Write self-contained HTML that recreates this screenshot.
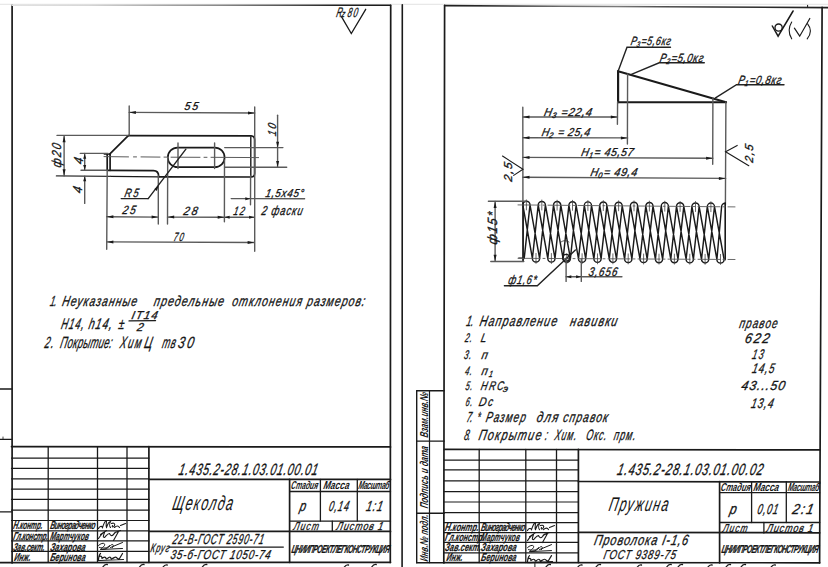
<!DOCTYPE html>
<html><head><meta charset="utf-8"><title>drawing</title>
<style>
html,body{margin:0;padding:0;background:#fff;width:828px;height:567px;overflow:hidden}
svg{display:block}
text{font-family:"Liberation Sans",sans-serif;font-style:italic}
</style></head><body>
<svg width="828" height="567" viewBox="0 0 828 567" stroke-linecap="round">
<line x1="0.0" y1="4.3" x2="828.0" y2="4.3" stroke="#e8e8e8" stroke-width="1.2" />
<line x1="12.1" y1="5.3" x2="12.1" y2="563.0" stroke="#1a1a1a" stroke-width="1.7" />
<defs><linearGradient id="gl" gradientUnits="userSpaceOnUse" x1="12" y1="0" x2="391" y2="0"><stop offset="0" stop-color="#e2e2e2"/><stop offset="0.2" stop-color="#d6d6d6"/><stop offset="0.38" stop-color="#aaaaaa"/><stop offset="0.55" stop-color="#888888"/><stop offset="0.75" stop-color="#4a4a4a"/><stop offset="0.85" stop-color="#222222"/><stop offset="1" stop-color="#1a1a1a"/></linearGradient>
<linearGradient id="gr" gradientUnits="userSpaceOnUse" x1="444" y1="0" x2="828" y2="0"><stop offset="0" stop-color="#1e1e1e"/><stop offset="0.18" stop-color="#333"/><stop offset="0.3" stop-color="#6a6a6a"/><stop offset="0.45" stop-color="#7a7a7a"/><stop offset="0.55" stop-color="#555"/><stop offset="0.7" stop-color="#333"/><stop offset="1" stop-color="#222"/></linearGradient></defs>
<line x1="12.0" y1="5.3" x2="390.6" y2="5.3" stroke="url(#gl)" stroke-width="1.6" />
<line x1="390.7" y1="5.4" x2="390.3" y2="562.5" stroke="#1a1a1a" stroke-width="1.7" />
<line x1="402.3" y1="4.8" x2="402.1" y2="567.0" stroke="#1a1a1a" stroke-width="1.6" />
<line x1="444.6" y1="5.4" x2="443.8" y2="562.8" stroke="#1a1a1a" stroke-width="1.7" />
<line x1="444.6" y1="5.6" x2="828.0" y2="7.6" stroke="url(#gr)" stroke-width="1.6" />
<line x1="807.6" y1="5.3" x2="807.6" y2="7.0" stroke="#1a1a1a" stroke-width="1.0" />
<line x1="822.1" y1="7.4" x2="819.6" y2="562.8" stroke="#1a1a1a" stroke-width="1.7" />
<line x1="0.0" y1="389.0" x2="11.8" y2="389.0" stroke="#1a1a1a" stroke-width="1.3" />
<line x1="0.0" y1="439.3" x2="11.7" y2="439.3" stroke="#1a1a1a" stroke-width="1.3" />
<line x1="0.0" y1="511.8" x2="11.6" y2="511.8" stroke="#1a1a1a" stroke-width="1.3" />
<line x1="3.0" y1="437.0" x2="3.0" y2="439.0" stroke="#1a1a1a" stroke-width="0.8" />
<line x1="11.5" y1="446.6" x2="390.5" y2="446.9" stroke="#1a1a1a" stroke-width="1.7" />
<line x1="11.5" y1="458.1" x2="149.0" y2="458.1" stroke="#1a1a1a" stroke-width="1.2" />
<line x1="11.5" y1="468.4" x2="149.0" y2="468.4" stroke="#1a1a1a" stroke-width="1.2" />
<line x1="11.5" y1="478.8" x2="149.0" y2="478.8" stroke="#1a1a1a" stroke-width="1.2" />
<line x1="11.5" y1="489.2" x2="149.0" y2="489.2" stroke="#1a1a1a" stroke-width="1.2" />
<line x1="11.5" y1="499.4" x2="149.0" y2="499.4" stroke="#1a1a1a" stroke-width="1.2" />
<line x1="11.5" y1="510.1" x2="149.0" y2="510.1" stroke="#1a1a1a" stroke-width="1.2" />
<line x1="11.5" y1="520.5" x2="149.0" y2="520.5" stroke="#1a1a1a" stroke-width="1.2" />
<line x1="11.5" y1="530.8" x2="149.0" y2="530.8" stroke="#1a1a1a" stroke-width="1.2" />
<line x1="11.5" y1="540.9" x2="149.0" y2="540.9" stroke="#1a1a1a" stroke-width="1.2" />
<line x1="11.5" y1="551.3" x2="149.0" y2="551.3" stroke="#1a1a1a" stroke-width="1.2" />
<line x1="0.0" y1="562.7" x2="390.5" y2="562.3" stroke="#1a1a1a" stroke-width="1.7" />
<line x1="48.2" y1="446.6" x2="48.2" y2="562.3" stroke="#1a1a1a" stroke-width="1.3" />
<line x1="97.5" y1="446.6" x2="97.5" y2="562.3" stroke="#1a1a1a" stroke-width="1.3" />
<line x1="127.0" y1="446.6" x2="127.0" y2="562.3" stroke="#1a1a1a" stroke-width="1.3" />
<line x1="148.9" y1="446.6" x2="148.9" y2="562.3" stroke="#1a1a1a" stroke-width="1.7" />
<line x1="149.0" y1="479.4" x2="390.5" y2="479.4" stroke="#1a1a1a" stroke-width="1.7" />
<line x1="149.0" y1="531.4" x2="390.5" y2="531.4" stroke="#1a1a1a" stroke-width="1.7" />
<line x1="289.6" y1="479.4" x2="289.6" y2="562.3" stroke="#1a1a1a" stroke-width="1.7" />
<line x1="289.6" y1="491.5" x2="390.5" y2="491.5" stroke="#1a1a1a" stroke-width="1.3" />
<line x1="289.6" y1="521.1" x2="390.5" y2="521.1" stroke="#1a1a1a" stroke-width="1.3" />
<line x1="320.4" y1="479.4" x2="320.4" y2="521.1" stroke="#1a1a1a" stroke-width="1.3" />
<line x1="357.3" y1="479.4" x2="357.3" y2="521.1" stroke="#1a1a1a" stroke-width="1.3" />
<line x1="332.3" y1="521.1" x2="332.3" y2="531.4" stroke="#1a1a1a" stroke-width="1.3" />
<line x1="169.0" y1="547.1" x2="283.4" y2="547.1" stroke="#1a1a1a" stroke-width="1.1" />
<line x1="416.7" y1="390.8" x2="416.7" y2="562.7" stroke="#1a1a1a" stroke-width="1.4" />
<line x1="429.5" y1="390.8" x2="429.5" y2="562.7" stroke="#1a1a1a" stroke-width="1.2" />
<line x1="416.7" y1="390.8" x2="444.2" y2="390.8" stroke="#1a1a1a" stroke-width="1.4" />
<line x1="416.7" y1="441.1" x2="444.2" y2="441.1" stroke="#1a1a1a" stroke-width="1.4" />
<line x1="416.7" y1="513.3" x2="444.2" y2="513.3" stroke="#1a1a1a" stroke-width="1.4" />
<line x1="416.7" y1="562.7" x2="444.2" y2="562.7" stroke="#1a1a1a" stroke-width="1.4" />
<line x1="444.3" y1="449.4" x2="819.7" y2="449.9" stroke="#1a1a1a" stroke-width="1.7" />
<line x1="444.3" y1="460.2" x2="578.4" y2="460.2" stroke="#1a1a1a" stroke-width="1.2" />
<line x1="444.3" y1="469.9" x2="578.4" y2="469.9" stroke="#1a1a1a" stroke-width="1.2" />
<line x1="444.3" y1="480.8" x2="578.4" y2="480.8" stroke="#1a1a1a" stroke-width="1.2" />
<line x1="444.3" y1="491.6" x2="578.4" y2="491.6" stroke="#1a1a1a" stroke-width="1.2" />
<line x1="444.3" y1="502.0" x2="578.4" y2="502.0" stroke="#1a1a1a" stroke-width="1.2" />
<line x1="444.3" y1="512.7" x2="578.4" y2="512.7" stroke="#1a1a1a" stroke-width="1.2" />
<line x1="444.3" y1="522.6" x2="578.4" y2="522.6" stroke="#1a1a1a" stroke-width="1.2" />
<line x1="444.3" y1="532.7" x2="578.4" y2="532.7" stroke="#1a1a1a" stroke-width="1.2" />
<line x1="444.3" y1="542.4" x2="578.4" y2="542.4" stroke="#1a1a1a" stroke-width="1.2" />
<line x1="444.3" y1="552.8" x2="578.4" y2="552.8" stroke="#1a1a1a" stroke-width="1.2" />
<line x1="444.3" y1="562.6" x2="819.7" y2="562.8" stroke="#1a1a1a" stroke-width="1.7" />
<line x1="479.2" y1="449.4" x2="479.2" y2="562.6" stroke="#1a1a1a" stroke-width="1.3" />
<line x1="525.8" y1="449.4" x2="525.8" y2="562.6" stroke="#1a1a1a" stroke-width="1.3" />
<line x1="556.5" y1="449.4" x2="556.5" y2="562.6" stroke="#1a1a1a" stroke-width="1.3" />
<line x1="578.4" y1="449.4" x2="578.4" y2="562.6" stroke="#1a1a1a" stroke-width="1.7" />
<line x1="578.4" y1="481.5" x2="819.7" y2="482.0" stroke="#1a1a1a" stroke-width="1.7" />
<line x1="578.4" y1="532.4" x2="819.7" y2="532.8" stroke="#1a1a1a" stroke-width="1.7" />
<line x1="719.6" y1="481.5" x2="719.6" y2="562.8" stroke="#1a1a1a" stroke-width="1.7" />
<line x1="719.6" y1="492.6" x2="819.7" y2="492.7" stroke="#1a1a1a" stroke-width="1.3" />
<line x1="719.6" y1="522.5" x2="819.7" y2="522.5" stroke="#1a1a1a" stroke-width="1.3" />
<line x1="751.6" y1="481.7" x2="751.6" y2="522.5" stroke="#1a1a1a" stroke-width="1.3" />
<line x1="786.3" y1="481.7" x2="786.3" y2="522.5" stroke="#1a1a1a" stroke-width="1.3" />
<line x1="763.9" y1="522.5" x2="763.9" y2="533.0" stroke="#1a1a1a" stroke-width="1.3" />
<path d="M128.3,135.6 L251.2,135.8 Q254.6,136 254.6,139.5 L254.6,173.5 Q254.6,177 251.2,177 L158.6,176.9" stroke="#1a1a1a" stroke-width="1.7" fill="none" />
<line x1="110.5" y1="176.4" x2="158.6" y2="176.9" stroke="#1a1a1a" stroke-width="1.4" />
<line x1="56.4" y1="175.9" x2="110.5" y2="176.4" stroke="#333" stroke-width="1.3" />
<path d="M128.3,135.6 L109.4,154.3" stroke="#1a1a1a" stroke-width="1.7" fill="none" />
<line x1="107.2" y1="154.0" x2="107.2" y2="170.3" stroke="#1a1a1a" stroke-width="1.7" />
<line x1="110.1" y1="154.3" x2="110.1" y2="170.3" stroke="#1a1a1a" stroke-width="1.7" />
<path d="M107.2,170.3 L153.5,170.6 Q158.5,170.8 158.6,175.8" stroke="#1a1a1a" stroke-width="1.7" fill="none" />
<line x1="104.3" y1="154.2" x2="110.5" y2="154.2" stroke="#1a1a1a" stroke-width="1.2" />
<path d="M177.6,147.6 L214.8,147.6 A9.8,9.8 0 0 1 214.8,167.2 L177.6,167.2 A9.8,9.8 0 0 1 177.6,147.6 Z" stroke="#1a1a1a" stroke-width="1.7" fill="none" />
<line x1="250.8" y1="137.0" x2="250.8" y2="176.5" stroke="#1a1a1a" stroke-width="1.4" />
<line x1="57.0" y1="135.4" x2="128.0" y2="135.4" stroke="#5a5a5a" stroke-width="1.4" />
<line x1="80.3" y1="153.4" x2="108.0" y2="153.4" stroke="#5a5a5a" stroke-width="1.4" />
<line x1="81.0" y1="170.3" x2="107.0" y2="170.3" stroke="#5a5a5a" stroke-width="1.4" />
<line x1="64.1" y1="135.6" x2="64.1" y2="175.9" stroke="#5a5a5a" stroke-width="1.4" />
<path d="M64.1,135.8 L65.6,142.3 L62.6,142.3 Z" fill="#1a1a1a"/>
<path d="M64.1,175.7 L62.6,169.2 L65.6,169.2 Z" fill="#1a1a1a"/>
<line x1="84.7" y1="153.5" x2="84.7" y2="170.2" stroke="#5a5a5a" stroke-width="1.4" />
<path d="M84.7,153.7 L86.2,158.7 L83.2,158.7 Z" fill="#1a1a1a"/>
<path d="M84.7,170.1 L83.2,165.1 L86.2,165.1 Z" fill="#1a1a1a"/>
<line x1="84.7" y1="176.1" x2="84.7" y2="203.4" stroke="#5a5a5a" stroke-width="1.4" />
<path d="M84.7,176.2 L86.2,181.2 L83.2,181.2 Z" fill="#1a1a1a"/>
<path d="M104,156.6 L128.5,156.9 M133.5,156.9 L136.5,156.9 M141,156.9 L160,157.1 M164,157.1 L167,157.1 M171,157.2 L200,157.3 M204,157.3 L207,157.3 M211,157.3 L258.6,157.6" stroke="#5a5a5a" stroke-width="1.0" fill="none" />
<line x1="178.0" y1="143.0" x2="178.0" y2="168.5" stroke="#5a5a5a" stroke-width="1.4" />
<line x1="214.6" y1="143.0" x2="214.6" y2="168.5" stroke="#5a5a5a" stroke-width="1.4" />
<line x1="224.7" y1="147.6" x2="282.9" y2="147.6" stroke="#5a5a5a" stroke-width="1.4" />
<line x1="224.7" y1="167.2" x2="286.7" y2="167.2" stroke="#5a5a5a" stroke-width="1.4" />
<line x1="277.6" y1="115.2" x2="277.6" y2="167.2" stroke="#5a5a5a" stroke-width="1.4" />
<path d="M277.6,147.8 L276.1,141.8 L279.1,141.8 Z" fill="#1a1a1a"/>
<path d="M277.6,167.0 L276.1,161.0 L279.1,161.0 Z" fill="#1a1a1a"/>
<line x1="129.2" y1="105.9" x2="129.2" y2="135.0" stroke="#5a5a5a" stroke-width="1.4" />
<line x1="254.7" y1="107.0" x2="254.7" y2="251.2" stroke="#5a5a5a" stroke-width="1.4" />
<line x1="129.2" y1="112.4" x2="254.7" y2="113.0" stroke="#5a5a5a" stroke-width="1.4" />
<path d="M129.4,112.4 L135.9,110.9 L135.9,113.9 Z" fill="#1a1a1a"/>
<path d="M254.5,113.0 L248.0,114.5 L248.0,111.5 Z" fill="#1a1a1a"/>
<line x1="107.2" y1="170.3" x2="106.7" y2="249.2" stroke="#5a5a5a" stroke-width="1.4" />
<line x1="158.3" y1="176.0" x2="158.3" y2="224.1" stroke="#5a5a5a" stroke-width="1.4" />
<line x1="167.7" y1="157.3" x2="167.5" y2="224.1" stroke="#5a5a5a" stroke-width="1.4" />
<line x1="224.5" y1="160.0" x2="224.4" y2="221.8" stroke="#5a5a5a" stroke-width="1.4" />
<line x1="250.6" y1="176.0" x2="250.5" y2="204.8" stroke="#5a5a5a" stroke-width="1.4" />
<line x1="106.7" y1="216.8" x2="158.3" y2="217.1" stroke="#5a5a5a" stroke-width="1.4" />
<path d="M106.9,216.8 L113.4,215.3 L113.4,218.3 Z" fill="#1a1a1a"/>
<path d="M158.1,217.1 L151.6,218.6 L151.6,215.6 Z" fill="#1a1a1a"/>
<line x1="167.5" y1="217.1" x2="224.4" y2="217.3" stroke="#5a5a5a" stroke-width="1.4" />
<path d="M167.7,217.1 L174.2,215.6 L174.2,218.6 Z" fill="#1a1a1a"/>
<path d="M224.2,217.3 L217.7,218.8 L217.7,215.8 Z" fill="#1a1a1a"/>
<line x1="224.4" y1="217.3" x2="254.3" y2="217.3" stroke="#5a5a5a" stroke-width="1.4" />
<path d="M224.6,217.3 L229.6,215.8 L229.6,218.8 Z" fill="#1a1a1a"/>
<path d="M254.1,217.3 L249.1,218.8 L249.1,215.8 Z" fill="#1a1a1a"/>
<line x1="106.7" y1="241.9" x2="254.3" y2="242.5" stroke="#5a5a5a" stroke-width="1.4" />
<path d="M106.9,241.9 L113.4,240.4 L113.4,243.4 Z" fill="#1a1a1a"/>
<path d="M254.1,242.5 L247.6,244.0 L247.6,241.0 Z" fill="#1a1a1a"/>
<line x1="185.9" y1="149.2" x2="148.2" y2="198.6" stroke="#222" stroke-width="1.4" />
<line x1="148.2" y1="198.6" x2="121.2" y2="198.6" stroke="#222" stroke-width="1.4" />
<path d="M158.6,186.0 L156.8,190.9 L154.4,189.1 Z" fill="#1a1a1a"/>
<line x1="231.2" y1="198.6" x2="304.6" y2="198.8" stroke="#5a5a5a" stroke-width="1.4" />
<path d="M250.3,198.7 L245.3,200.2 L245.3,197.2 Z" fill="#1a1a1a"/>
<path d="M341.6,16.9 L351.3,33.5 L365.7,9.3" stroke="#1a1a1a" stroke-width="1.3" fill="none" />
<line x1="618.1" y1="71.2" x2="618.1" y2="102.2" stroke="#1a1a1a" stroke-width="2.2" />
<line x1="618.1" y1="71.2" x2="726.1" y2="102.2" stroke="#1a1a1a" stroke-width="2.0" />
<line x1="618.1" y1="102.2" x2="726.1" y2="102.2" stroke="#1a1a1a" stroke-width="2.0" />
<line x1="617.6" y1="102.0" x2="617.4" y2="124.2" stroke="#5a5a5a" stroke-width="1.4" />
<line x1="627.6" y1="74.0" x2="627.4" y2="144.0" stroke="#5a5a5a" stroke-width="1.4" />
<line x1="712.9" y1="98.0" x2="712.7" y2="164.3" stroke="#5a5a5a" stroke-width="1.4" />
<line x1="725.9" y1="102.0" x2="725.4" y2="205.0" stroke="#5a5a5a" stroke-width="1.4" />
<path d="M618.1,71.2 L627,47.3 L670.5,47.3" stroke="#222" stroke-width="1.4" fill="none" />
<path d="M631.4,74.3 L659.2,62.8 L704.3,62.8" stroke="#222" stroke-width="1.4" fill="none" />
<path d="M715.5,97.8 L736.5,84.7 L784,84.7" stroke="#222" stroke-width="1.4" fill="none" />
<line x1="522.8" y1="107.3" x2="523.0" y2="261.0" stroke="#5a5a5a" stroke-width="1.4" />
<line x1="522.8" y1="117.0" x2="617.5" y2="117.0" stroke="#5a5a5a" stroke-width="1.4" />
<path d="M523.0,117.0 L529.5,115.5 L529.5,118.5 Z" fill="#1a1a1a"/>
<path d="M617.3,117.0 L610.8,118.5 L610.8,115.5 Z" fill="#1a1a1a"/>
<line x1="522.8" y1="137.7" x2="627.6" y2="137.9" stroke="#5a5a5a" stroke-width="1.4" />
<path d="M523.0,137.7 L529.5,136.2 L529.5,139.2 Z" fill="#1a1a1a"/>
<path d="M627.4,137.9 L620.9,139.4 L620.9,136.4 Z" fill="#1a1a1a"/>
<line x1="522.8" y1="157.4" x2="712.8" y2="158.2" stroke="#5a5a5a" stroke-width="1.4" />
<path d="M523.0,157.4 L529.5,155.9 L529.5,158.9 Z" fill="#1a1a1a"/>
<path d="M712.6,158.2 L706.1,159.7 L706.1,156.7 Z" fill="#1a1a1a"/>
<line x1="522.8" y1="177.3" x2="725.6" y2="178.4" stroke="#5a5a5a" stroke-width="1.4" />
<path d="M523.0,177.3 L529.5,175.8 L529.5,178.8 Z" fill="#1a1a1a"/>
<path d="M725.4,178.4 L718.9,179.9 L718.9,176.9 Z" fill="#1a1a1a"/>
<path d="M502.5,156 L523,169.2 L513.7,175.4" stroke="#1a1a1a" stroke-width="1.1" fill="none" />
<path d="M737.2,145.4 L725.6,151.8 L748.8,165.7" stroke="#1a1a1a" stroke-width="1.1" fill="none" />
<path d="M772.3,26 L778.1,36.2 L793.1,11" stroke="#1a1a1a" stroke-width="1.5" fill="none" />
<circle cx="778.6" cy="27.6" r="3.6" fill="none" stroke="#1a1a1a" stroke-width="1.3"/>
<path d="M791.7,22 Q786.5,30.5 791.7,38.8" stroke="#1a1a1a" stroke-width="1.1" fill="none" />
<path d="M794.4,28.2 L799.7,36.2 L809.8,18.5" stroke="#1a1a1a" stroke-width="1.2" fill="none" />
<path d="M807.6,23.8 Q813.5,31 807.2,38.8" stroke="#1a1a1a" stroke-width="1.1" fill="none" />
<path d="M522.8,204.9 A3.6,3.6 0 0 1 530.0,204.9 M538.2,205.0 A3.6,3.6 0 0 1 545.4,205.0 M553.5,205.2 A3.6,3.6 0 0 1 560.8,205.2 M568.9,205.3 A3.6,3.6 0 0 1 576.1,205.3 M584.3,205.5 A3.6,3.6 0 0 1 591.5,205.5 M599.7,205.6 A3.6,3.6 0 0 1 606.9,205.6 M615.0,205.8 A3.6,3.6 0 0 1 622.2,205.8 M630.4,205.9 A3.6,3.6 0 0 1 637.6,205.9 M645.8,206.1 A3.6,3.6 0 0 1 653.0,206.1 M661.2,206.2 A3.6,3.6 0 0 1 668.4,206.2 M676.5,206.4 A3.6,3.6 0 0 1 683.8,206.4 M691.9,206.5 A3.6,3.6 0 0 1 699.1,206.5 M707.3,206.7 A3.6,3.6 0 0 1 714.5,206.7 M532.4,258.4 A3.6,3.6 0 0 0 539.6,258.4 M547.8,258.5 A3.6,3.6 0 0 0 555.0,258.5 M563.1,258.6 A3.6,3.6 0 0 0 570.4,258.6 M578.5,258.7 A3.6,3.6 0 0 0 585.7,258.7 M593.9,258.8 A3.6,3.6 0 0 0 601.1,258.8 M609.3,258.8 A3.6,3.6 0 0 0 616.5,258.8 M624.6,258.9 A3.6,3.6 0 0 0 631.9,258.9 M640.0,259.0 A3.6,3.6 0 0 0 647.2,259.0 M655.4,259.1 A3.6,3.6 0 0 0 662.6,259.1 M670.8,259.1 A3.6,3.6 0 0 0 678.0,259.1 M686.1,259.2 A3.6,3.6 0 0 0 693.4,259.2 M701.5,259.3 A3.6,3.6 0 0 0 708.7,259.3 M716.9,259.4 A3.6,3.6 0 0 0 724.1,259.4 M522.8,204.9 L532.4,258.4 M530.0,204.9 L539.6,258.4 M538.2,205.0 L547.8,258.5 M545.4,205.0 L555.0,258.5 M553.5,205.2 L563.1,258.6 M560.8,205.2 L570.4,258.6 M568.9,205.3 L578.5,258.7 M576.1,205.3 L585.7,258.7 M584.3,205.5 L593.9,258.8 M591.5,205.5 L601.1,258.8 M599.7,205.6 L609.3,258.8 M606.9,205.6 L616.5,258.8 M615.0,205.8 L624.6,258.9 M622.2,205.8 L631.9,258.9 M630.4,205.9 L640.0,259.0 M637.6,205.9 L647.2,259.0 M645.8,206.1 L655.4,259.1 M653.0,206.1 L662.6,259.1 M661.2,206.2 L670.8,259.1 M668.4,206.2 L678.0,259.1 M676.5,206.4 L686.1,259.2 M683.8,206.4 L693.4,259.2 M691.9,206.5 L701.5,259.3 M699.1,206.5 L708.7,259.3 M707.3,206.7 L716.9,259.4 M714.5,206.7 L724.1,259.4 M532.4,258.4 L538.2,205.0 M539.6,258.4 L545.4,205.0 M547.8,258.5 L553.5,205.2 M555.0,258.5 L560.8,205.2 M563.1,258.6 L568.9,205.3 M570.4,258.6 L576.1,205.3 M578.5,258.7 L584.3,205.5 M585.7,258.7 L591.5,205.5 M593.9,258.8 L599.7,205.6 M601.1,258.8 L606.9,205.6 M609.3,258.8 L615.0,205.8 M616.5,258.8 L622.2,205.8 M624.6,258.9 L630.4,205.9 M631.9,258.9 L637.6,205.9 M640.0,259.0 L645.8,206.1 M647.2,259.0 L653.0,206.1 M655.4,259.1 L661.2,206.2 M662.6,259.1 L668.4,206.2 M670.8,259.1 L676.5,206.4 M678.0,259.1 L683.8,206.4 M686.1,259.2 L691.9,206.5 M693.4,259.2 L699.1,206.5 M701.5,259.3 L707.3,206.7 M708.7,259.3 L714.5,206.7 M524.2,258.4 L530.0,204.9 M716.9,259.4 L721.6,206.8 M721.6,206.8 A3.6,3.6 0 0 1 725.2,203.2" stroke="#1a1a1a" stroke-width="1.45" fill="none" />
<line x1="523.1" y1="202.4" x2="523.1" y2="260.4" stroke="#1a1a1a" stroke-width="1.6" />
<line x1="725.2" y1="203.0" x2="725.2" y2="259.8" stroke="#1a1a1a" stroke-width="1.6" />
<line x1="518.7" y1="258.0" x2="523.1" y2="258.0" stroke="#1a1a1a" stroke-width="1.2" />
<path d="M518,204.9 L735,206.9" stroke="#5a5a5a" stroke-width="0.9" fill="none" stroke-dasharray="22,3,2,3"/>
<path d="M518,258.3 L735,259.5" stroke="#5a5a5a" stroke-width="0.9" fill="none" stroke-dasharray="22,3,2,3"/>
<path d="M526.4,199.9 V209.9 M541.8,200.0 V210.0 M557.1,200.2 V210.2 M572.5,200.3 V210.3 M587.9,200.5 V210.5 M603.3,200.6 V210.6 M618.6,200.8 V210.8 M634.0,200.9 V210.9 M649.4,201.1 V211.1 M664.8,201.2 V211.2 M680.1,201.4 V211.4 M695.5,201.5 V211.5 M710.9,201.7 V211.7 M536.0,253.4 V263.4 M551.4,253.5 V263.5 M566.8,253.6 V263.6 M582.1,253.7 V263.7 M597.5,253.8 V263.8 M612.9,253.8 V263.8 M628.2,253.9 V263.9 M643.6,254.0 V264.0 M659.0,254.1 V264.1 M674.4,254.1 V264.1 M689.8,254.2 V264.2 M705.1,254.3 V264.3 M720.5,254.4 V264.4" stroke="#444" stroke-width="0.8" fill="none" />
<line x1="488.4" y1="201.2" x2="526.0" y2="201.2" stroke="#5a5a5a" stroke-width="1.4" />
<line x1="490.8" y1="261.5" x2="523.8" y2="261.5" stroke="#5a5a5a" stroke-width="1.4" />
<line x1="495.1" y1="201.4" x2="495.1" y2="261.3" stroke="#5a5a5a" stroke-width="1.4" />
<path d="M495.1,201.5 L496.6,208.0 L493.6,208.0 Z" fill="#1a1a1a"/>
<path d="M495.1,261.2 L493.6,254.7 L496.6,254.7 Z" fill="#1a1a1a"/>
<circle cx="566.1" cy="257.8" r="3.4" fill="none" stroke="#1a1a1a" stroke-width="1.4"/>
<path d="M575.4,250.1 L537.3,285.7 L504.4,285.7" stroke="#222" stroke-width="1.4" fill="none" />
<line x1="566.1" y1="258.0" x2="566.1" y2="281.4" stroke="#5a5a5a" stroke-width="1.4" />
<line x1="581.3" y1="259.0" x2="581.3" y2="281.4" stroke="#5a5a5a" stroke-width="1.4" />
<line x1="566.1" y1="276.7" x2="621.9" y2="276.7" stroke="#5a5a5a" stroke-width="1.4" />
<path d="M566.3,276.7 L571.3,275.2 L571.3,278.2 Z" fill="#1a1a1a"/>
<path d="M581.1,276.7 L576.1,278.2 L576.1,275.2 Z" fill="#1a1a1a"/>
<path d="M561,242 Q565,239 569,242" stroke="#333" stroke-width="0.8" fill="none" />
<path d="M102.8,567.0 Q104.8,564.0 107.3,564.5" stroke="#1a1a1a" stroke-width="1.3" fill="none" />
<path d="M139.5,567.0 Q141.5,564.0 144.0,564.5" stroke="#1a1a1a" stroke-width="1.3" fill="none" />
<path d="M162.7,567.5 Q164.7,564.5 167.2,565.0" stroke="#1a1a1a" stroke-width="1.3" fill="none" />
<path d="M202.3,567.0 Q204.3,564.0 206.8,564.5" stroke="#1a1a1a" stroke-width="1.3" fill="none" />
<path d="M344.0,567.5 Q346.0,564.5 348.5,565.0" stroke="#1a1a1a" stroke-width="1.3" fill="none" />
<path d="M371.7,567.0 Q373.7,564.0 376.2,564.5" stroke="#1a1a1a" stroke-width="1.3" fill="none" />
<path d="M545.9,567.0 Q547.9,564.0 550.4,564.5" stroke="#1a1a1a" stroke-width="1.3" fill="none" />
<path d="M577.5,567.5 Q579.5,564.5 582.0,565.0" stroke="#1a1a1a" stroke-width="1.3" fill="none" />
<path d="M596.0,567.0 Q598.0,564.0 600.5,564.5" stroke="#1a1a1a" stroke-width="1.3" fill="none" />
<path d="M637.0,567.5 Q639.0,564.5 641.5,565.0" stroke="#1a1a1a" stroke-width="1.3" fill="none" />
<path d="M666.7,567.0 Q668.7,564.0 671.2,564.5" stroke="#1a1a1a" stroke-width="1.3" fill="none" />
<path d="M678.0,567.0 Q680.0,564.0 682.5,564.5" stroke="#1a1a1a" stroke-width="1.3" fill="none" />
<path d="M707.6,567.5 Q709.6,564.5 712.1,565.0" stroke="#1a1a1a" stroke-width="1.3" fill="none" />
<path d="M726.0,567.0 Q728.0,564.0 730.5,564.5" stroke="#1a1a1a" stroke-width="1.3" fill="none" />
<path d="M741.0,567.0 Q743.0,564.0 745.5,564.5" stroke="#1a1a1a" stroke-width="1.3" fill="none" />
<path d="M770.8,567.5 Q772.8,564.5 775.3,565.0" stroke="#1a1a1a" stroke-width="1.3" fill="none" />
<line x1="534.9" y1="563.5" x2="534.9" y2="567.0" stroke="#1a1a1a" stroke-width="1.0" />
<text x="0" y="0" font-size="14" textLength="10.7" lengthAdjust="spacing" transform="translate(335.8 16.6) skewX(-12) scale(0.580 1)" font-weight="normal" fill="#151515" stroke="#151515" stroke-width="0.32" text-anchor="start" >R</text>
<text x="0" y="0" font-size="9.5" textLength="5.5" lengthAdjust="spacing" transform="translate(341.3 16.6) skewX(-12) scale(0.688 1)" font-weight="normal" fill="#151515" stroke="#151515" stroke-width="0.32" text-anchor="start" >z</text>
<text x="0" y="0" font-size="13.4" textLength="17.2" lengthAdjust="spacing" transform="translate(347.0 17.3) skewX(-12) scale(0.580 1)" font-weight="normal" fill="#151515" stroke="#151515" stroke-width="0.32" text-anchor="start" >80</text>
<text x="0" y="0" font-size="11.5" textLength="14.9" lengthAdjust="spacing" transform="translate(184.0 110.4) skewX(-12) scale(0.908 1)" font-weight="normal" fill="#151515" stroke="#151515" stroke-width="0.32" text-anchor="start" >55</text>
<text x="0" y="0" font-size="11.5" textLength="14.9" lengthAdjust="spacing" transform="translate(276.0 136.5) rotate(-90) skewX(-12) scale(0.840 1)" font-weight="normal" fill="#151515" stroke="#151515" stroke-width="0.32" text-anchor="start" >10</text>
<text x="0" y="0" font-size="13" textLength="29.4" lengthAdjust="spacing" transform="translate(61.3 168.1) rotate(-90) skewX(-12) scale(0.815 1)" font-weight="normal" fill="#151515" stroke="#151515" stroke-width="0.32" text-anchor="start" >ф20</text>
<text x="0" y="0" font-size="13" textLength="8.4" lengthAdjust="spacing" transform="translate(82.5 164.8) rotate(-90) skewX(-12) scale(0.892 1)" font-weight="normal" fill="#151515" stroke="#151515" stroke-width="0.32" text-anchor="start" >4</text>
<text x="0" y="0" font-size="13" textLength="8.4" lengthAdjust="spacing" transform="translate(82.2 193.7) rotate(-90) skewX(-12) scale(0.892 1)" font-weight="normal" fill="#151515" stroke="#151515" stroke-width="0.32" text-anchor="start" >4</text>
<text x="0" y="0" font-size="12" textLength="17.8" lengthAdjust="spacing" transform="translate(124.0 197.0) skewX(-12) scale(0.785 1)" font-weight="normal" fill="#151515" stroke="#151515" stroke-width="0.32" text-anchor="start" >R5</text>
<text x="0" y="0" font-size="12" textLength="15.5" lengthAdjust="spacing" transform="translate(122.0 214.0) skewX(-12) scale(0.838 1)" font-weight="normal" fill="#151515" stroke="#151515" stroke-width="0.32" text-anchor="start" >25</text>
<text x="0" y="0" font-size="12" textLength="15.5" lengthAdjust="spacing" transform="translate(183.0 215.0) skewX(-12) scale(0.902 1)" font-weight="normal" fill="#151515" stroke="#151515" stroke-width="0.32" text-anchor="start" >28</text>
<text x="0" y="0" font-size="12" textLength="15.5" lengthAdjust="spacing" transform="translate(233.0 215.0) skewX(-12) scale(0.709 1)" font-weight="normal" fill="#151515" stroke="#151515" stroke-width="0.32" text-anchor="start" >12</text>
<text x="0" y="0" font-size="12" textLength="15.5" lengthAdjust="spacing" transform="translate(173.0 241.0) skewX(-12) scale(0.644 1)" font-weight="normal" fill="#151515" stroke="#151515" stroke-width="0.32" text-anchor="start" >70</text>
<text x="0" y="0" font-size="11.5" textLength="45.5" lengthAdjust="spacing" transform="translate(265.0 197.0) skewX(-12) scale(0.835 1)" font-weight="normal" fill="#151515" stroke="#151515" stroke-width="0.32" text-anchor="start" >1,5x45°</text>
<text x="0" y="0" font-size="13" textLength="56.7" lengthAdjust="spacing" transform="translate(261.0 214.5) skewX(-12) scale(0.723 1)" font-weight="normal" fill="#151515" stroke="#151515" stroke-width="0.32" text-anchor="start" >2 фаски</text>
<text x="0" y="0" font-size="14.5" textLength="11.4" lengthAdjust="spacing" transform="translate(49.4 305.8) skewX(-12) scale(0.580 1)" font-weight="normal" fill="#151515" stroke="#151515" stroke-width="0.32" text-anchor="start" >1.</text>
<text x="0" y="0" font-size="14.5" textLength="103.8" lengthAdjust="spacing" transform="translate(61.4 305.8) skewX(-12) scale(0.722 1)" font-weight="normal" fill="#151515" stroke="#151515" stroke-width="0.32" text-anchor="start" >Неуказанные</text>
<text x="0" y="0" font-size="14.5" textLength="95.4" lengthAdjust="spacing" transform="translate(153.2 305.8) skewX(-12) scale(0.734 1)" font-weight="normal" fill="#151515" stroke="#151515" stroke-width="0.32" text-anchor="start" >предельные</text>
<text x="0" y="0" font-size="14.5" textLength="96.6" lengthAdjust="spacing" transform="translate(231.4 305.8) skewX(-12) scale(0.725 1)" font-weight="normal" fill="#151515" stroke="#151515" stroke-width="0.32" text-anchor="start" >отклонения</text>
<text x="0" y="0" font-size="14.5" textLength="79.2" lengthAdjust="spacing" transform="translate(306.3 305.8) skewX(-12) scale(0.732 1)" font-weight="normal" fill="#151515" stroke="#151515" stroke-width="0.32" text-anchor="start" >размеров:</text>
<text x="0" y="0" font-size="15.3" textLength="37.6" lengthAdjust="spacing" transform="translate(60.4 328.5) skewX(-12) scale(0.607 1)" font-weight="normal" fill="#151515" stroke="#151515" stroke-width="0.32" text-anchor="start" >H14,</text>
<text x="0" y="0" font-size="15.3" textLength="34.6" lengthAdjust="spacing" transform="translate(87.9 328.5) skewX(-12) scale(0.679 1)" font-weight="normal" fill="#151515" stroke="#151515" stroke-width="0.32" text-anchor="start" >h14,</text>
<text x="0" y="0" font-size="15.3" textLength="9.8" lengthAdjust="spacing" transform="translate(117.7 328.5) skewX(-12) scale(0.696 1)" font-weight="normal" fill="#151515" stroke="#151515" stroke-width="0.32" text-anchor="start" >±</text>
<text x="0" y="0" font-size="11.5" textLength="26.8" lengthAdjust="spacing" transform="translate(131.0 319.0) skewX(-12) scale(0.972 1)" font-weight="normal" fill="#151515" stroke="#151515" stroke-width="0.32" text-anchor="start" >IT14</text>
<line x1="129.0" y1="320.9" x2="155.6" y2="320.6" stroke="#1a1a1a" stroke-width="1.2" />
<text x="0" y="0" font-size="11.5" textLength="8.0" lengthAdjust="spacing" transform="translate(136.5 330.5) skewX(-12) scale(1.000 1)" font-weight="normal" fill="#151515" stroke="#151515" stroke-width="0.32" text-anchor="start" >2</text>
<text x="0" y="0" font-size="16.3" textLength="15.7" lengthAdjust="spacing" transform="translate(43.9 348.2) skewX(-12) scale(0.580 1)" font-weight="normal" fill="#151515" stroke="#151515" stroke-width="0.32" text-anchor="start" >2.</text>
<text x="0" y="0" font-size="16.3" textLength="89.3" lengthAdjust="spacing" transform="translate(59.6 348.2) skewX(-12) scale(0.580 1)" font-weight="normal" fill="#151515" stroke="#151515" stroke-width="0.32" text-anchor="start" >Покрытие:</text>
<text x="0" y="0" font-size="16.3" textLength="36.2" lengthAdjust="spacing" transform="translate(119.3 348.2) skewX(-12) scale(0.586 1)" font-weight="normal" fill="#151515" stroke="#151515" stroke-width="0.32" text-anchor="start" >Хим</text>
<text x="0" y="0" font-size="16.3" textLength="13.8" lengthAdjust="spacing" transform="translate(143.6 348.2) skewX(-12) scale(0.682 1)" font-weight="normal" fill="#151515" stroke="#151515" stroke-width="0.32" text-anchor="start" >Ц</text>
<text x="0" y="0" font-size="16.3" textLength="23.1" lengthAdjust="spacing" transform="translate(161.6 348.2) skewX(-12) scale(0.580 1)" font-weight="normal" fill="#151515" stroke="#151515" stroke-width="0.32" text-anchor="start" >тв</text>
<text x="0" y="0" font-size="16.3" textLength="21.1" lengthAdjust="spacing" transform="translate(177.3 348.2) skewX(-12) scale(0.745 1)" font-weight="normal" fill="#151515" stroke="#151515" stroke-width="0.32" text-anchor="start" >30</text>
<text x="0" y="0" font-size="16.4" textLength="213.1" lengthAdjust="spacing" transform="translate(178.0 474.7) skewX(-12) scale(0.652 1)" font-weight="normal" fill="#151515" stroke="#151515" stroke-width="0.32" text-anchor="start" >1.435.2-28.1.03.01.00.01</text>
<text x="0" y="0" font-size="20.3" textLength="98.4" lengthAdjust="spacing" transform="translate(171.4 509.8) skewX(-12) scale(0.615 1)" font-weight="normal" fill="#151515" stroke="#151515" stroke-width="0.1" text-anchor="start" >Щеколда</text>
<text x="0" y="0" font-size="12" textLength="29.4" lengthAdjust="spacing" transform="translate(150.0 551.5) skewX(-12) scale(0.637 1)" font-weight="normal" fill="#151515" stroke="#151515" stroke-width="0.32" text-anchor="start" >Круг</text>
<text x="0" y="0" font-size="14.5" textLength="151.4" lengthAdjust="spacing" transform="translate(172.0 544.2) skewX(-12) scale(0.601 1)" font-weight="normal" fill="#151515" stroke="#151515" stroke-width="0.32" text-anchor="start" >22-B-ГОСТ 2590-71</text>
<text x="0" y="0" font-size="13" textLength="134.2" lengthAdjust="spacing" transform="translate(170.0 558.8) skewX(-12) scale(0.745 1)" font-weight="normal" fill="#151515" stroke="#151515" stroke-width="0.32" text-anchor="start" >35-б-ГОСТ 1050-74</text>
<text x="0" y="0" font-size="11.5" textLength="45.8" lengthAdjust="spacing" transform="translate(290.5 489.3) skewX(-12) scale(0.589 1)" font-weight="bold" fill="#151515" text-anchor="start" >Стадия</text>
<text x="0" y="0" font-size="11.5" textLength="35.3" lengthAdjust="spacing" transform="translate(322.9 489.3) skewX(-12) scale(0.737 1)" font-weight="bold" fill="#151515" text-anchor="start" >Масса</text>
<text x="0" y="0" font-size="11.5" textLength="52.8" lengthAdjust="spacing" transform="translate(358.0 489.3) skewX(-12) scale(0.580 1)" font-weight="bold" fill="#151515" text-anchor="start" >Масштаб</text>
<text x="0" y="0" font-size="15" textLength="9.7" lengthAdjust="spacing" transform="translate(299.0 510.5) skewX(-12) scale(0.753 1)" font-weight="normal" fill="#151515" stroke="#151515" stroke-width="0.3" text-anchor="start" >р</text>
<text x="0" y="0" font-size="14.5" textLength="32.8" lengthAdjust="spacing" transform="translate(328.2 510.5) skewX(-12) scale(0.606 1)" font-weight="normal" fill="#151515" stroke="#151515" stroke-width="0.32" text-anchor="start" >0,14</text>
<text x="0" y="0" font-size="14.5" textLength="23.4" lengthAdjust="spacing" transform="translate(365.4 510.5) skewX(-12) scale(0.708 1)" font-weight="normal" fill="#151515" stroke="#151515" stroke-width="0.32" text-anchor="start" >1:1</text>
<text x="0" y="0" font-size="11.5" textLength="34.4" lengthAdjust="spacing" transform="translate(293.0 529.8) skewX(-12) scale(0.732 1)" font-weight="normal" fill="#151515" stroke="#151515" stroke-width="0.32" text-anchor="start" >Лист</text>
<text x="0" y="0" font-size="11.5" textLength="59.8" lengthAdjust="spacing" transform="translate(336.1 529.8) skewX(-12) scale(0.777 1)" font-weight="normal" fill="#151515" stroke="#151515" stroke-width="0.32" text-anchor="start" >Листов 1</text>
<text x="0" y="0" font-size="11.5" textLength="169.0" lengthAdjust="spacing" transform="translate(291.0 552.8) skewX(-12) scale(0.580 1)" font-weight="bold" fill="#151515" stroke="#151515" stroke-width="0.25" text-anchor="start" >ЦНИИПРОЕКТЛЕГКОНСТРУКЦИЯ</text>
<text x="0" y="0" font-size="11.5" textLength="50.5" lengthAdjust="spacing" transform="translate(12.7 529.4) skewX(-12) scale(0.580 1)" font-weight="bold" fill="#151515" stroke="#151515" stroke-width="0.2" text-anchor="start" >Н.контр.</text>
<text x="0" y="0" font-size="11.5" textLength="77.8" lengthAdjust="spacing" transform="translate(49.7 529.4) skewX(-12) scale(0.580 1)" font-weight="bold" fill="#151515" stroke="#151515" stroke-width="0.2" text-anchor="start" >Виноградченко</text>
<text x="0" y="0" font-size="11.5" textLength="60.0" lengthAdjust="spacing" transform="translate(12.7 539.7) skewX(-12) scale(0.580 1)" font-weight="bold" fill="#151515" stroke="#151515" stroke-width="0.2" text-anchor="start" >Гл.констр.</text>
<text x="0" y="0" font-size="11.5" textLength="66.3" lengthAdjust="spacing" transform="translate(49.7 539.7) skewX(-12) scale(0.583 1)" font-weight="bold" fill="#151515" stroke="#151515" stroke-width="0.2" text-anchor="start" >Мартчуков</text>
<text x="0" y="0" font-size="11.5" textLength="54.3" lengthAdjust="spacing" transform="translate(12.7 550.6) skewX(-12) scale(0.580 1)" font-weight="bold" fill="#151515" stroke="#151515" stroke-width="0.2" text-anchor="start" >Зав.сект.</text>
<text x="0" y="0" font-size="11.5" textLength="53.7" lengthAdjust="spacing" transform="translate(49.7 550.6) skewX(-12) scale(0.658 1)" font-weight="bold" fill="#151515" stroke="#151515" stroke-width="0.2" text-anchor="start" >Захарова</text>
<text x="0" y="0" font-size="11.5" textLength="26.9" lengthAdjust="spacing" transform="translate(13.8 561.0) skewX(-12) scale(0.606 1)" font-weight="bold" fill="#151515" stroke="#151515" stroke-width="0.2" text-anchor="start" >Инж.</text>
<text x="0" y="0" font-size="11.5" textLength="55.7" lengthAdjust="spacing" transform="translate(49.7 561.0) skewX(-12) scale(0.633 1)" font-weight="bold" fill="#151515" stroke="#151515" stroke-width="0.2" text-anchor="start" >Беринова</text>
<path d="M98.5,528.5 c1,-2 3,-3 4,-1 c1,-3 3,-7 4,-7 c0,3 -1,6 0,7 c1,-3 3,-6 4,-6 c-1,2 -1,5 0,6 M111.5,523.5 c2,-1 4,0 3,2 c-1,2 -3,2 -2,0 M114.5,527.5 c2,-2 4,-2 5,0 M120.5,525.5 l5,-2" stroke="#1a1a1a" stroke-width="1.1" fill="none" />
<path d="M98.5,538.5 c2,-3 4,-6 6,-6 c-1,3 -2,5 0,5 c2,-2 3,-4 5,-4 c1,2 2,3 4,1 c1,-2 3,-3 5,-3 l-5,9 M100.5,534.5 l6,-4 M117.5,531.5 l3,-1" stroke="#1a1a1a" stroke-width="1.1" fill="none" />
<path d="M98.5,545.5 c3,-3 7,-3 6,0 c-2,3 -5,3 -2,4 c3,0 6,-2 8,-4 c2,-2 4,-1 2,2 M100.5,549.5 l22,-1 M110.5,547.5 l12,-5 M99.5,547.5 c4,1 8,1 10,-2" stroke="#1a1a1a" stroke-width="1.0" fill="none" />
<path d="M98.5,560.5 c0,-3 1,-6 2,-7 M99.5,556.5 c2,-1 3,1 2,2 c2,-1 3,-2 4,-1 c1,1 0,2 2,1 c1,-1 2,-2 3,-1 c1,1 0,2 2,1 c2,-1 3,-2 4,-1 c1,1 1,2 3,1 l3,-5 M99.5,560.5 l24,-1" stroke="#1a1a1a" stroke-width="1.2" fill="none" />
<text x="0" y="0" font-size="12" textLength="54.0" lengthAdjust="spacing" transform="translate(630.2 45.4) skewX(-12) scale(0.741 1)" font-weight="normal" fill="#151515" stroke="#151515" stroke-width="0.32" text-anchor="start" >Р<tspan font-size='8' dy='2'>3</tspan><tspan dy='-2'>=5,6кг</tspan></text>
<text x="0" y="0" font-size="12" textLength="54.0" lengthAdjust="spacing" transform="translate(659.2 61.5) skewX(-12) scale(0.805 1)" font-weight="normal" fill="#151515" stroke="#151515" stroke-width="0.32" text-anchor="start" >Р<tspan font-size='8' dy='2'>2</tspan><tspan dy='-2'>=5,0кг</tspan></text>
<text x="0" y="0" font-size="12" textLength="54.0" lengthAdjust="spacing" transform="translate(737.7 84.0) skewX(-12) scale(0.796 1)" font-weight="normal" fill="#151515" stroke="#151515" stroke-width="0.32" text-anchor="start" >Р<tspan font-size='8' dy='2'>1</tspan><tspan dy='-2'>=0,8кг</tspan></text>
<text x="0" y="0" font-size="11.5" textLength="50.8" lengthAdjust="spacing" transform="translate(543.6 115.6) skewX(-12) scale(0.937 1)" font-weight="normal" fill="#151515" stroke="#151515" stroke-width="0.32" text-anchor="start" >H<tspan font-size='8' dy='2'>3</tspan><tspan dy='-2'> =22,4</tspan></text>
<text x="0" y="0" font-size="11.5" textLength="54.3" lengthAdjust="spacing" transform="translate(541.2 136.3) skewX(-12) scale(0.890 1)" font-weight="normal" fill="#151515" stroke="#151515" stroke-width="0.32" text-anchor="start" >H<tspan font-size='8' dy='2'>2</tspan><tspan dy='-2'> = 25,4</tspan></text>
<text x="0" y="0" font-size="11.5" textLength="57.7" lengthAdjust="spacing" transform="translate(580.8 156.0) skewX(-12) scale(0.901 1)" font-weight="normal" fill="#151515" stroke="#151515" stroke-width="0.32" text-anchor="start" >H<tspan font-size='8' dy='2'>1</tspan><tspan dy='-2'>= 45,57</tspan></text>
<text x="0" y="0" font-size="11.5" textLength="50.8" lengthAdjust="spacing" transform="translate(589.9 176.3) skewX(-12) scale(0.921 1)" font-weight="normal" fill="#151515" stroke="#151515" stroke-width="0.32" text-anchor="start" >H<tspan font-size='8' dy='2'>0</tspan><tspan dy='-2'>= 49,4</tspan></text>
<text x="0" y="0" font-size="11.5" textLength="19.0" lengthAdjust="spacing" transform="translate(512.0 182.0) rotate(-90) skewX(-12) scale(1.000 1)" font-weight="normal" fill="#151515" stroke="#151515" stroke-width="0.32" text-anchor="start" >2,5</text>
<text x="0" y="0" font-size="11.5" textLength="18.6" lengthAdjust="spacing" transform="translate(752.5 163.0) rotate(-90) skewX(-12) scale(0.968 1)" font-weight="normal" fill="#151515" stroke="#151515" stroke-width="0.32" text-anchor="start" >2,5</text>
<text x="0" y="0" font-size="13.5" textLength="36.7" lengthAdjust="spacing" transform="translate(497.0 245.0) rotate(-90) skewX(-12) scale(0.872 1)" font-weight="normal" fill="#151515" stroke="#151515" stroke-width="0.32" text-anchor="start" >ф15*</text>
<text x="0" y="0" font-size="12.5" textLength="38.0" lengthAdjust="spacing" transform="translate(507.8 284.3) skewX(-12) scale(0.737 1)" font-weight="normal" fill="#151515" stroke="#151515" stroke-width="0.32" text-anchor="start" >ф1,6*</text>
<text x="0" y="0" font-size="12.5" textLength="36.4" lengthAdjust="spacing" transform="translate(588.0 275.8) skewX(-12) scale(0.792 1)" font-weight="normal" fill="#151515" stroke="#151515" stroke-width="0.32" text-anchor="start" >3,656</text>
<text x="0" y="0" font-size="15" textLength="12.6" lengthAdjust="spacing" transform="translate(465.7 326.3) skewX(-12) scale(0.580 1)" font-weight="normal" fill="#151515" stroke="#151515" stroke-width="0.32" text-anchor="start" >1.</text>
<text x="0" y="0" font-size="15" textLength="108.2" lengthAdjust="spacing" transform="translate(479.0 326.3) skewX(-12) scale(0.715 1)" font-weight="normal" fill="#151515" stroke="#151515" stroke-width="0.32" text-anchor="start" >Направление</text>
<text x="0" y="0" font-size="15" textLength="65.1" lengthAdjust="spacing" transform="translate(569.6 326.3) skewX(-12) scale(0.723 1)" font-weight="normal" fill="#151515" stroke="#151515" stroke-width="0.32" text-anchor="start" >навивки</text>
<text x="0" y="0" font-size="12.5" textLength="12.1" lengthAdjust="spacing" transform="translate(464.4 341.7) skewX(-12) scale(0.594 1)" font-weight="normal" fill="#151515" stroke="#151515" stroke-width="0.32" text-anchor="start" >2.</text>
<text x="0" y="0" font-size="12.5" textLength="8.1" lengthAdjust="spacing" transform="translate(480.3 341.7) skewX(-12) scale(0.804 1)" font-weight="normal" fill="#151515" stroke="#151515" stroke-width="0.32" text-anchor="start" >L</text>
<text x="0" y="0" font-size="12.5" textLength="12.1" lengthAdjust="spacing" transform="translate(463.4 358.7) skewX(-12) scale(0.627 1)" font-weight="normal" fill="#151515" stroke="#151515" stroke-width="0.32" text-anchor="start" >3.</text>
<text x="0" y="0" font-size="12.5" textLength="8.0" lengthAdjust="spacing" transform="translate(481.0 358.7) skewX(-12) scale(0.875 1)" font-weight="normal" fill="#151515" stroke="#151515" stroke-width="0.32" text-anchor="start" >п</text>
<text x="0" y="0" font-size="12.5" textLength="12.1" lengthAdjust="spacing" transform="translate(464.4 374.6) skewX(-12) scale(0.594 1)" font-weight="normal" fill="#151515" stroke="#151515" stroke-width="0.32" text-anchor="start" >4.</text>
<text x="0" y="0" font-size="12.5" textLength="8.0" lengthAdjust="spacing" transform="translate(481.0 374.6) skewX(-12) scale(0.875 1)" font-weight="normal" fill="#151515" stroke="#151515" stroke-width="0.32" text-anchor="start" >п</text>
<text x="0" y="0" font-size="9" textLength="5.8" lengthAdjust="spacing" transform="translate(488.5 376.5) skewX(-12) scale(0.773 1)" font-weight="normal" fill="#151515" stroke="#151515" stroke-width="0.32" text-anchor="start" >1</text>
<text x="0" y="0" font-size="12.5" textLength="11.9" lengthAdjust="spacing" transform="translate(465.1 390.2) skewX(-12) scale(0.580 1)" font-weight="normal" fill="#151515" stroke="#151515" stroke-width="0.32" text-anchor="start" >5.</text>
<text x="0" y="0" font-size="12.5" textLength="31.5" lengthAdjust="spacing" transform="translate(480.3 390.2) skewX(-12) scale(0.721 1)" font-weight="normal" fill="#151515" stroke="#151515" stroke-width="0.32" text-anchor="start" >HRC</text>
<text x="0" y="0" font-size="10" textLength="6.0" lengthAdjust="spacing" transform="translate(502.5 392.0) skewX(-12) scale(1.000 1)" font-weight="normal" fill="#151515" stroke="#151515" stroke-width="0.32" text-anchor="start" >э</text>
<text x="0" y="0" font-size="12.5" textLength="11.9" lengthAdjust="spacing" transform="translate(465.1 406.1) skewX(-12) scale(0.580 1)" font-weight="normal" fill="#151515" stroke="#151515" stroke-width="0.32" text-anchor="start" >6.</text>
<text x="0" y="0" font-size="12.5" textLength="10.5" lengthAdjust="spacing" transform="translate(478.2 406.1) skewX(-12) scale(0.838 1)" font-weight="normal" fill="#151515" stroke="#151515" stroke-width="0.32" text-anchor="start" >D</text>
<text x="0" y="0" font-size="12.5" textLength="7.3" lengthAdjust="spacing" transform="translate(487.5 406.1) skewX(-12) scale(0.757 1)" font-weight="normal" fill="#151515" stroke="#151515" stroke-width="0.32" text-anchor="start" >c</text>
<text x="0" y="0" font-size="14.5" textLength="10.5" lengthAdjust="spacing" transform="translate(465.9 422.4) skewX(-12) scale(0.580 1)" font-weight="normal" fill="#151515" stroke="#151515" stroke-width="0.32" text-anchor="start" >7.</text>
<text x="0" y="0" font-size="14.5" textLength="6.4" lengthAdjust="spacing" transform="translate(476.3 422.4) skewX(-12) scale(0.580 1)" font-weight="normal" fill="#151515" stroke="#151515" stroke-width="0.32" text-anchor="start" >*</text>
<text x="0" y="0" font-size="14.5" textLength="58.2" lengthAdjust="spacing" transform="translate(485.2 422.4) skewX(-12) scale(0.684 1)" font-weight="normal" fill="#151515" stroke="#151515" stroke-width="0.32" text-anchor="start" >Размер</text>
<text x="0" y="0" font-size="14.5" textLength="27.8" lengthAdjust="spacing" transform="translate(535.9 422.4) skewX(-12) scale(0.783 1)" font-weight="normal" fill="#151515" stroke="#151515" stroke-width="0.32" text-anchor="start" >для</text>
<text x="0" y="0" font-size="14.5" textLength="62.2" lengthAdjust="spacing" transform="translate(562.5 422.4) skewX(-12) scale(0.718 1)" font-weight="normal" fill="#151515" stroke="#151515" stroke-width="0.32" text-anchor="start" >справок</text>
<text x="0" y="0" font-size="15" textLength="11.2" lengthAdjust="spacing" transform="translate(463.5 440.0) skewX(-12) scale(0.580 1)" font-weight="normal" fill="#151515" stroke="#151515" stroke-width="0.32" text-anchor="start" >8.</text>
<text x="0" y="0" font-size="15" textLength="87.0" lengthAdjust="spacing" transform="translate(478.0 440.0) skewX(-12) scale(0.720 1)" font-weight="normal" fill="#151515" stroke="#151515" stroke-width="0.32" text-anchor="start" >Покрытие</text>
<text x="0" y="0" font-size="15" textLength="4.5" lengthAdjust="spacing" transform="translate(544.4 440.0) skewX(-12) scale(0.580 1)" font-weight="normal" fill="#151515" stroke="#151515" stroke-width="0.32" text-anchor="start" >:</text>
<text x="0" y="0" font-size="15" textLength="37.6" lengthAdjust="spacing" transform="translate(554.0 440.0) skewX(-12) scale(0.580 1)" font-weight="normal" fill="#151515" stroke="#151515" stroke-width="0.32" text-anchor="start" >Хим.</text>
<text x="0" y="0" font-size="15" textLength="35.2" lengthAdjust="spacing" transform="translate(585.4 440.0) skewX(-12) scale(0.586 1)" font-weight="normal" fill="#151515" stroke="#151515" stroke-width="0.32" text-anchor="start" >Окс.</text>
<text x="0" y="0" font-size="15" textLength="35.9" lengthAdjust="spacing" transform="translate(613.2 440.0) skewX(-12) scale(0.607 1)" font-weight="normal" fill="#151515" stroke="#151515" stroke-width="0.32" text-anchor="start" >прм.</text>
<text x="0" y="0" font-size="14" textLength="53.3" lengthAdjust="spacing" transform="translate(738.8 328.4) skewX(-12) scale(0.713 1)" font-weight="normal" fill="#151515" stroke="#151515" stroke-width="0.32" text-anchor="start" >правое</text>
<text x="0" y="0" font-size="14" textLength="27.2" lengthAdjust="spacing" transform="translate(744.3 343.0) skewX(-12) scale(0.906 1)" font-weight="normal" fill="#151515" stroke="#151515" stroke-width="0.32" text-anchor="start" >622</text>
<text x="0" y="0" font-size="14" textLength="18.1" lengthAdjust="spacing" transform="translate(751.5 358.5) skewX(-12) scale(0.641 1)" font-weight="normal" fill="#151515" stroke="#151515" stroke-width="0.32" text-anchor="start" >13</text>
<text x="0" y="0" font-size="14" textLength="31.7" lengthAdjust="spacing" transform="translate(751.5 373.1) skewX(-12) scale(0.704 1)" font-weight="normal" fill="#151515" stroke="#151515" stroke-width="0.32" text-anchor="start" >14,5</text>
<text x="0" y="0" font-size="13.2" textLength="46.9" lengthAdjust="spacing" transform="translate(740.8 390.0) skewX(-12) scale(0.931 1)" font-weight="normal" fill="#151515" stroke="#151515" stroke-width="0.32" text-anchor="start" >43...50</text>
<text x="0" y="0" font-size="14" textLength="31.7" lengthAdjust="spacing" transform="translate(750.5 408.0) skewX(-12) scale(0.704 1)" font-weight="normal" fill="#151515" stroke="#151515" stroke-width="0.32" text-anchor="start" >13,4</text>
<text x="0" y="0" font-size="16.4" textLength="213.1" lengthAdjust="spacing" transform="translate(616.6 475.0) skewX(-12) scale(0.684 1)" font-weight="normal" fill="#151515" stroke="#151515" stroke-width="0.32" text-anchor="start" >1.435.2-28.1.03.01.00.02</text>
<text x="0" y="0" font-size="19.8" textLength="94.6" lengthAdjust="spacing" transform="translate(608.0 511.3) skewX(-12) scale(0.629 1)" font-weight="normal" fill="#151515" stroke="#151515" stroke-width="0.1" text-anchor="start" >Пружина</text>
<text x="0" y="0" font-size="14.7" textLength="124.7" lengthAdjust="spacing" transform="translate(593.5 545.3) skewX(-12) scale(0.754 1)" font-weight="normal" fill="#151515" stroke="#151515" stroke-width="0.32" text-anchor="start" >Проволока I-1,6</text>
<text x="0" y="0" font-size="13" textLength="98.8" lengthAdjust="spacing" transform="translate(603.0 558.8) skewX(-12) scale(0.732 1)" font-weight="normal" fill="#151515" stroke="#151515" stroke-width="0.32" text-anchor="start" >ГОСТ 9389-75</text>
<text x="0" y="0" font-size="11.5" textLength="45.8" lengthAdjust="spacing" transform="translate(720.3 491.3) skewX(-12) scale(0.652 1)" font-weight="bold" fill="#151515" text-anchor="start" >Стадия</text>
<text x="0" y="0" font-size="11.5" textLength="35.3" lengthAdjust="spacing" transform="translate(752.9 491.3) skewX(-12) scale(0.725 1)" font-weight="bold" fill="#151515" text-anchor="start" >Масса</text>
<text x="0" y="0" font-size="11.5" textLength="53.8" lengthAdjust="spacing" transform="translate(787.4 491.3) skewX(-12) scale(0.580 1)" font-weight="bold" fill="#151515" text-anchor="start" >Масштаб</text>
<text x="0" y="0" font-size="15" textLength="9.7" lengthAdjust="spacing" transform="translate(729.0 513.9) skewX(-12) scale(0.825 1)" font-weight="normal" fill="#151515" stroke="#151515" stroke-width="0.3" text-anchor="start" >р</text>
<text x="0" y="0" font-size="14.5" textLength="32.8" lengthAdjust="spacing" transform="translate(756.8 513.9) skewX(-12) scale(0.628 1)" font-weight="normal" fill="#151515" stroke="#151515" stroke-width="0.32" text-anchor="start" >0,01</text>
<text x="0" y="0" font-size="14.5" textLength="23.4" lengthAdjust="spacing" transform="translate(791.8 513.9) skewX(-12) scale(0.888 1)" font-weight="normal" fill="#151515" stroke="#151515" stroke-width="0.32" text-anchor="start" >2:1</text>
<text x="0" y="0" font-size="11.5" textLength="34.4" lengthAdjust="spacing" transform="translate(722.3 531.8) skewX(-12) scale(0.715 1)" font-weight="normal" fill="#151515" stroke="#151515" stroke-width="0.32" text-anchor="start" >Лист</text>
<text x="0" y="0" font-size="11.5" textLength="59.8" lengthAdjust="spacing" transform="translate(766.1 531.8) skewX(-12) scale(0.777 1)" font-weight="normal" fill="#151515" stroke="#151515" stroke-width="0.32" text-anchor="start" >Листов 1</text>
<text x="0" y="0" font-size="11.5" textLength="167.2" lengthAdjust="spacing" transform="translate(721.0 553.3) skewX(-12) scale(0.580 1)" font-weight="bold" fill="#151515" stroke="#151515" stroke-width="0.25" text-anchor="start" >ЦНИИПРОЕКТЛЕГКОНСТРУКЦИЯ</text>
<text x="0" y="0" font-size="11.5" textLength="51.7" lengthAdjust="spacing" transform="translate(444.6 531.0) skewX(-12) scale(0.653 1)" font-weight="bold" fill="#151515" stroke="#151515" stroke-width="0.2" text-anchor="start" >Н.контр.</text>
<text x="0" y="0" font-size="11.5" textLength="75.7" lengthAdjust="spacing" transform="translate(480.6 531.0) skewX(-12) scale(0.580 1)" font-weight="bold" fill="#151515" stroke="#151515" stroke-width="0.2" text-anchor="start" >Виноградченко</text>
<text x="0" y="0" font-size="11.5" textLength="63.6" lengthAdjust="spacing" transform="translate(444.6 541.0) skewX(-12) scale(0.618 1)" font-weight="bold" fill="#151515" stroke="#151515" stroke-width="0.2" text-anchor="start" >Гл.констр.</text>
<text x="0" y="0" font-size="11.5" textLength="66.3" lengthAdjust="spacing" transform="translate(480.6 541.0) skewX(-12) scale(0.583 1)" font-weight="bold" fill="#151515" stroke="#151515" stroke-width="0.2" text-anchor="start" >Мартчуков</text>
<text x="0" y="0" font-size="11.5" textLength="55.8" lengthAdjust="spacing" transform="translate(444.6 551.4) skewX(-12) scale(0.645 1)" font-weight="bold" fill="#151515" stroke="#151515" stroke-width="0.2" text-anchor="start" >Зав.сект.</text>
<text x="0" y="0" font-size="11.5" textLength="53.7" lengthAdjust="spacing" transform="translate(480.6 551.4) skewX(-12) scale(0.658 1)" font-weight="bold" fill="#151515" stroke="#151515" stroke-width="0.2" text-anchor="start" >Захарова</text>
<text x="0" y="0" font-size="11.5" textLength="26.9" lengthAdjust="spacing" transform="translate(446.0 561.2) skewX(-12) scale(0.606 1)" font-weight="bold" fill="#151515" stroke="#151515" stroke-width="0.2" text-anchor="start" >Инж.</text>
<text x="0" y="0" font-size="11.5" textLength="55.7" lengthAdjust="spacing" transform="translate(480.6 561.2) skewX(-12) scale(0.633 1)" font-weight="bold" fill="#151515" stroke="#151515" stroke-width="0.2" text-anchor="start" >Беринова</text>
<path d="M527.5,530.6 c1,-2 3,-3 4,-1 c1,-3 3,-7 4,-7 c0,3 -1,6 0,7 c1,-3 3,-6 4,-6 c-1,2 -1,5 0,6 M540.5,525.6 c2,-1 4,0 3,2 c-1,2 -3,2 -2,0 M543.5,529.6 c2,-2 4,-2 5,0 M549.5,527.6 l5,-2" stroke="#1a1a1a" stroke-width="1.1" fill="none" />
<path d="M527.5,540.6 c2,-3 4,-6 6,-6 c-1,3 -2,5 0,5 c2,-2 3,-4 5,-4 c1,2 2,3 4,1 c1,-2 3,-3 5,-3 l-5,9 M529.5,536.6 l6,-4 M546.5,533.6 l3,-1" stroke="#1a1a1a" stroke-width="1.1" fill="none" />
<path d="M527.5,547.6 c3,-3 7,-3 6,0 c-2,3 -5,3 -2,4 c3,0 6,-2 8,-4 c2,-2 4,-1 2,2 M529.5,551.6 l22,-1 M539.5,549.6 l12,-5 M528.5,549.6 c4,1 8,1 10,-2" stroke="#1a1a1a" stroke-width="1.0" fill="none" />
<path d="M527.5,562.6 c0,-3 1,-6 2,-7 M528.5,558.6 c2,-1 3,1 2,2 c2,-1 3,-2 4,-1 c1,1 0,2 2,1 c1,-1 2,-2 3,-1 c1,1 0,2 2,1 c2,-1 3,-2 4,-1 c1,1 1,2 3,1 l3,-5 M528.5,562.6 l24,-1" stroke="#1a1a1a" stroke-width="1.2" fill="none" />
<text x="0" y="0" font-size="11.5" textLength="69.6" lengthAdjust="spacing" transform="translate(428.3 438.0) rotate(-90) skewX(-12) scale(0.647 1)" font-weight="bold" fill="#151515" text-anchor="start" >Взам.инв.№</text>
<text x="0" y="0" font-size="11.5" textLength="93.2" lengthAdjust="spacing" transform="translate(428.3 508.8) rotate(-90) skewX(-12) scale(0.665 1)" font-weight="bold" fill="#151515" text-anchor="start" >Подпись и дата</text>
<text x="0" y="0" font-size="11.5" textLength="73.2" lengthAdjust="spacing" transform="translate(428.3 562.0) rotate(-90) skewX(-12) scale(0.642 1)" font-weight="bold" fill="#151515" text-anchor="start" >Инв.№ подл.</text>
</svg>
</body></html>
